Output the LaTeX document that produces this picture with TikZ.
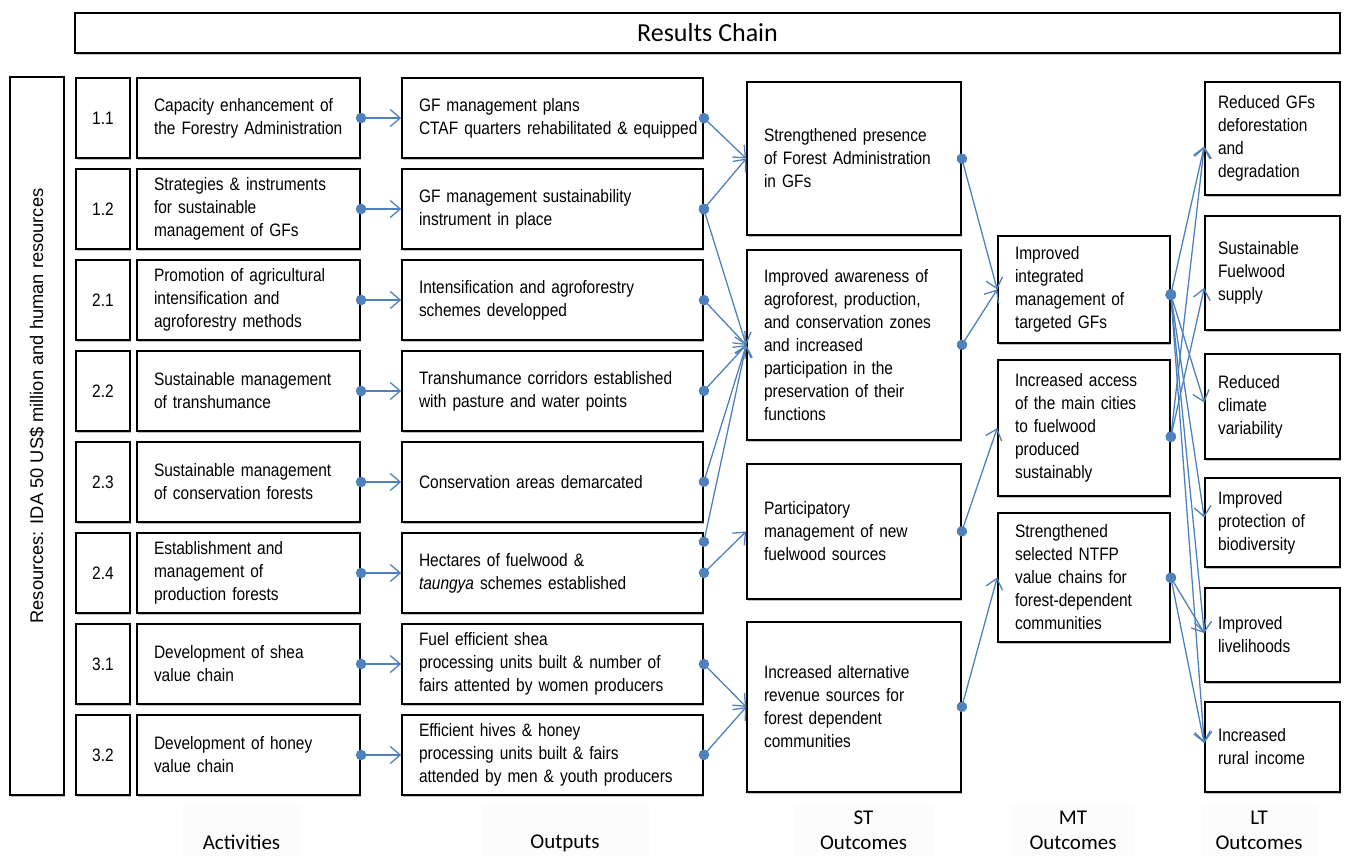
\documentclass[tikz,border=0pt]{standalone}
\usepackage{fontspec}
\setmainfont{Liberation Sans}[FakeStretch=0.86,WordSpace=0.7]
\newfontfamily\calfont{Carlito}
\newfontfamily\resfont{Liberation Sans}
\usetikzlibrary{arrows.meta,positioning,shadows}
\definecolor{linkblue}{RGB}{79,129,189}
\definecolor{footgray}{RGB}{252,252,252}
\tikzset{
  box/.style={draw=black, line width=1.6pt, fill=white, inner sep=0pt,
    drop shadow={shadow xshift=1.2pt, shadow yshift=-1.8pt, fill=black, opacity=0.25}},
  txtbox/.style={box, align=left, inner xsep=17pt, font=\fontsize{18}{23}\selectfont},
  numbox/.style={box, minimum width=54pt, minimum height=80pt, font=\fontsize{18}{23}\selectfont},
  actbox/.style={txtbox, text width=189pt, minimum height=80pt},
  outbox/.style={txtbox, text width=267pt, minimum height=80pt},
  stbox/.style={txtbox, text width=180pt},
  mtbox/.style={txtbox, text width=138pt},
  ltbox/.style={txtbox, inner xsep=13pt, text width=109pt},
  link/.style={draw=linkblue, line width=1.3pt, shorten <=-5pt,
    {Circle[length=10.5pt]}-{Straight Barb[length=10pt,width=17pt]}},
  footlbl/.style={fill=footgray, inner sep=0pt, minimum height=51pt, align=center,
    font=\calfont\fontsize{21}{25}\selectfont},
}

\begin{document}
\begin{tikzpicture}[x=1pt, y=-1pt]
  \useasboundingbox (0,0) rectangle (1346,856);
  % Title bar
  \node[box, minimum width=1265pt, minimum height=40pt, font=\calfont\fontsize{26}{30}\selectfont]
    (title) at (707.5,33) {Results Chain};
  % Resources side bar
  \node[box, minimum width=54pt, minimum height=718pt] (res) at (37,436) {};
  \node[rotate=90, font=\resfont\fontsize{18.3}{22}\selectfont] (restxt) at (37,406)
    {Resources: IDA 50 US\$ million and human resources};
  % Activities and outputs, one row each
  \foreach \i/\y/\num/\act/\out in {
    1/118/1.1/{Capacity enhancement of\\the Forestry Administration}/{GF management plans\\\mbox{CTAF quarters rehabilitated \& equipped}},
    2/209/1.2/{Strategies \& instruments\\for sustainable\\management of GFs}/{GF management sustainability\\instrument in place},
    3/300/2.1/{Promotion of agricultural\\intensification and\\agroforestry methods}/{Intensification and agroforestry\\schemes developped},
    4/391/2.2/{Sustainable management\\of transhumance}/{Transhumance corridors established\\with pasture and water points},
    5/482/2.3/{Sustainable management\\of conservation forests}/{Conservation areas demarcated},
    6/573/2.4/{Establishment and\\management of\\production forests}/{Hectares of fuelwood \&\\\textit{taungya} schemes established},
    7/664/3.1/{Development of shea\\value chain}/{Fuel efficient shea\\processing units built \& number of\\fairs attented by women producers},
    8/755/3.2/{Development of honey\\value chain}/{Efficient hives \& honey\\processing units built \& fairs\\attended by men \& youth producers}} {
    \node[numbox] (num\i) at (103,\y) {\num};
    \node[actbox] (act\i) at (248.5,\y) {\act};
    \node[outbox] (out\i) at (552.5,\y) {\out};
    \draw[link] (act\i.east) -- (out\i.west);
  }
  % Short-term outcomes
  \node[stbox, minimum height=153pt] (st1) at (854,158.5)
    {Strengthened presence\\of Forest Administration\\in GFs};
  \node[stbox, minimum height=190pt] (st2) at (854,345)
    {Improved awareness of\\agroforest, production,\\and conservation zones\\and increased\\participation in the\\preservation of their\\functions};
  \node[stbox, minimum height=135pt] (st3) at (854,531.5)
    {Participatory\\management of new\\fuelwood sources};
  \node[stbox, minimum height=170pt] (st4) at (854,707)
    {Increased alternative\\revenue sources for\\forest dependent\\communities};
  % Medium-term outcomes
  \node[mtbox, minimum height=107pt] (mt1) at (1084,289.5)
    {Improved\\integrated\\management of\\targeted GFs};
  \node[mtbox, minimum height=136pt] (mt2) at (1084,428)
    {Increased access\\of the main cities\\to fuelwood\\produced\\sustainably};
  \node[mtbox, minimum height=129pt] (mt3) at (1084,577.5)
    {Strengthened\\selected NTFP\\value chains for\\forest-dependent\\communities};
  % Long-term outcomes
  \node[ltbox, minimum height=113pt] (lt1) at (1272.5,138.5) {Reduced GFs\\deforestation\\and\\degradation};
  \node[ltbox, minimum height=114pt] (lt2) at (1272.5,273) {Sustainable\\Fuelwood\\supply};
  \node[ltbox, minimum height=105pt] (lt3) at (1272.5,406.5) {Reduced\\climate\\variability};
  \node[ltbox, minimum height=89pt] (lt4) at (1272.5,522.5) {Improved\\protection of\\biodiversity};
  \node[ltbox, minimum height=94pt] (lt5) at (1272.5,635) {Improved\\livelihoods};
  \node[ltbox, minimum height=90pt] (lt6) at (1272.5,747) {Increased\\rural income};
  % Outputs to ST outcomes
  \draw[link] (out1.east) -- (st1.west);
  \draw[link] (out2.east) -- (st1.west);
  \draw[link] (out2.east) -- (st2.west);
  \draw[link] (out3.east) -- (st2.west);
  \draw[link] (out4.east) -- (st2.west);
  \draw[link] (out5.east) -- (st2.west);
  \draw[link] ([yshift=31pt]out6.east) -- (st2.west);
  \draw[link] (out6.east) -- (st3.west);
  \draw[link] (out7.east) -- (st4.west);
  \draw[link] (out8.east) -- (st4.west);
  % ST to MT outcomes
  \draw[link] (st1.east) -- (mt1.west);
  \draw[link] (st2.east) -- (mt1.west);
  \draw[link] (st3.east) -- (mt2.west);
  \draw[link] (st4.east) -- (mt3.west);
  % MT to LT outcomes
  \foreach \t/\s in {lt1/-8, lt3/4, lt4/5, lt5/2, lt6/4}
    \draw[link] ([yshift=-5pt]mt1.east) -- ([yshift=\s pt]\t.west);
  \draw[link] ([yshift=-9pt]mt2.east) -- ([yshift=-8pt]lt1.west);
  \draw[link] ([yshift=-9pt]mt2.east) -- ([yshift=-15pt]lt2.west);
  \draw[link] (mt3.east) -- ([yshift=2pt]lt5.west);
  \draw[link] (mt3.east) -- ([yshift=4pt]lt6.west);
  % Column labels
  \node[footlbl, minimum width=117pt] (fact) at (241.5,830.5) {\vphantom{ST}\\Activities};
  \node[footlbl, minimum width=167pt] (fout) at (565,830.5) {\vphantom{ST}\\Outputs};
  \node[footlbl, minimum width=138pt] (fst) at (863.5,830.5) {ST\\Outcomes};
  \node[footlbl, minimum width=123pt] (fmt) at (1073,830.5) {MT\\Outcomes};
  \node[footlbl, minimum width=116pt] (flt) at (1259,830.5) {LT\\Outcomes};
\end{tikzpicture}
\end{document}
